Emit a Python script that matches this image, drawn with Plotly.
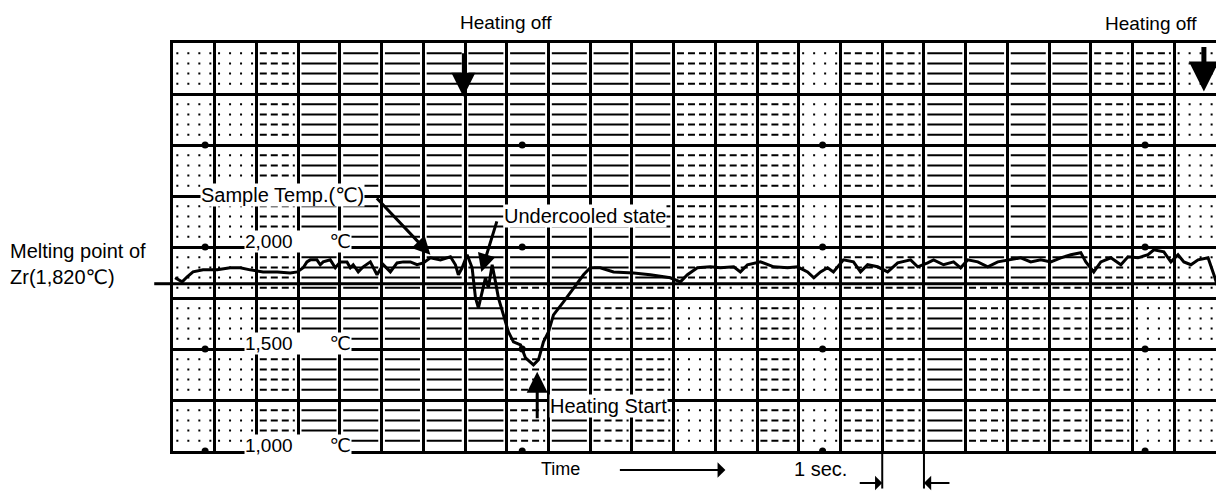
import plotly.graph_objects as go

# ---------------- data ----------------
time_s = [0.05, 0.22, 0.34, 0.48, 0.72, 1.06, 1.37, 1.61, 1.85, 2.16, 2.50, 2.81, 2.98, 3.12, 3.21, 3.29,
          3.45, 3.53, 3.60, 3.77, 3.89, 4.01, 4.17, 4.25, 4.32, 4.44, 4.56, 4.73, 4.89, 5.04, 5.21, 5.37,
          5.52, 5.69, 5.85, 6.00, 6.17, 6.41, 6.65, 6.77, 6.84, 6.93, 7.05, 7.17, 7.25, 7.32, 7.41, 7.49,
          7.56, 7.65, 7.73, 7.80, 7.92, 8.04, 8.16, 8.33, 8.45, 8.64, 8.76, 8.88, 9.00, 9.12, 9.36, 9.60,
          9.84, 10.00, 10.24, 10.56, 11.04, 11.44, 11.92, 12.16, 12.33, 12.57, 12.88, 13.12, 13.44, 13.60,
          13.77, 14.08, 14.25, 14.40, 14.73, 14.97, 15.21, 15.36, 15.52, 15.69, 15.83, 16.07, 16.31, 16.48,
          16.65, 16.89, 17.13, 17.37, 17.68, 17.85, 18.09, 18.23, 18.47, 18.71, 18.88, 19.05, 19.29, 19.53,
          19.77, 20.08, 20.32, 20.56, 20.80, 21.04, 21.28, 21.52, 21.76, 21.88, 22.07, 22.24, 22.48, 22.72,
          22.89, 23.13, 23.37, 23.51, 23.75, 23.92, 24.09, 24.23, 24.40, 24.57, 24.81, 24.95, 25.05]
temp_c = [1849, 1829, 1854, 1878, 1888, 1888, 1898, 1898, 1888, 1878, 1878, 1873, 1878, 1898, 1927, 1937,
          1937, 1913, 1927, 1937, 1898, 1927, 1927, 1898, 1913, 1878, 1903, 1927, 1864, 1913, 1878, 1922,
          1927, 1927, 1913, 1922, 1947, 1937, 1952, 1913, 1864, 1898, 1962, 1898, 1751, 1702, 1780, 1849,
          1800, 1913, 1829, 1751, 1667, 1584, 1535, 1520, 1456, 1422, 1447, 1535, 1584, 1667, 1731, 1800,
          1864, 1898, 1898, 1878, 1873, 1864, 1849, 1829, 1864, 1898, 1903, 1898, 1903, 1878,
          1913, 1927, 1913, 1903, 1898, 1903, 1878, 1849, 1878, 1898, 1878, 1937, 1927, 1878,
          1913, 1903, 1878, 1922, 1937, 1903, 1922, 1937, 1913, 1927, 1898, 1937, 1927, 1903,
          1927, 1937, 1947, 1927, 1937, 1927, 1947, 1962, 1972, 1927, 1878, 1927, 1947, 1913,
          1952, 1947, 1962, 1986, 1976, 1927, 1962, 1927, 1913, 1937, 1947, 1864, 1800]

mark_times = [0.77, 8.37, 15.57, 23.30]
mark_temps = [2500, 2000, 1500, 1000]

temp_levels = [1000, 1500, 2000]
temp_labels = ["1,000", "1,500", "2,000"]
melting_point = 1820

# chart-paper minor ruling style per 1-second column (upper / lower half)
style_upper = ["dot", "dot", "dash", "solid", "solid", "solid", "solid", "solid", "solid", "solid",
               "solid", "solid", "dash", "dash", "dash", "dot", "dash", "dash", "solid", "solid",
               "solid", "solid", "dash", "dash", "dot"]
style_lower = ["dot", "dot", "dash", "solid", "solid", "solid", "solid", "solid", "dash", "solid",
               "dash", "dash", "dot", "dot", "dash", "dot", "dash", "dash", "solid", "dash",
               "dash", "dash", "dash", "dot", "dot"]

T0, T1 = 1000, 3000
N_COLS = 25
FONT = "Liberation Sans, Arial, DejaVu Sans, sans-serif"


def px(t):
    return t / N_COLS


def py(T):
    return (T - T0) / (T1 - T0)


fig = go.Figure()

# minor ruling drawn as segments
dash_map = {"solid": "solid", "dash": "7px,4px", "dot": "2px,9px"}
for sty in ["solid", "dash", "dot"]:
    xs, ys = [], []
    for c in range(N_COLS):
        for T in range(T0 + 50, T1, 50):
            if T % 250 == 0:
                continue
            s = style_upper[c] if T > melting_point else style_lower[c]
            if s != sty:
                continue
            xs += [c + 0.08, c + 0.92, None]
            ys += [T, T, None]
    fig.add_trace(go.Scatter(x=xs, y=ys, mode="lines", hoverinfo="skip", showlegend=False,
                             line=dict(color="black", width=2, dash=dash_map[sty])))

# recorder marks
mx, my = [], []
for t in mark_times:
    for T in mark_temps:
        mx.append(t)
        my.append(T)
fig.add_trace(go.Scatter(x=mx, y=my, mode="markers", showlegend=False, hoverinfo="skip",
                         marker=dict(color="black", size=7, symbol="circle")))

# melting point line across the chart
fig.add_trace(go.Scatter(x=[0, N_COLS], y=[melting_point, melting_point], mode="lines",
                         showlegend=False, hoverinfo="skip", line=dict(color="black", width=3)))

# temperature trace
fig.add_trace(go.Scatter(x=time_s, y=temp_c, mode="lines", showlegend=False,
                         line=dict(color="black", width=3)))

shapes = [
    dict(type="line", xref="paper", yref="paper", x0=-0.018, x1=0, y0=py(melting_point), y1=py(melting_point),
         line=dict(color="black", width=3)),
    dict(type="line", xref="paper", yref="paper", x0=px(17), x1=px(17), y0=0, y1=-0.092,
         line=dict(color="black", width=2)),
    dict(type="line", xref="paper", yref="paper", x0=px(18), x1=px(18), y0=0, y1=-0.092,
         line=dict(color="black", width=2)),
]

ann = []


def txt(t, T, s, size=20, bg=None, xanchor="center"):
    d = dict(x=px(t), y=py(T), xref="paper", yref="paper", text=s, showarrow=False, xanchor=xanchor,
             yanchor="middle", align="left", font=dict(family=FONT, size=size, color="black"), borderpad=0)
    if bg:
        d["bgcolor"] = bg
    ann.append(d)


def arrow(t, T, ax, ay, width=2, size=1.0, head=2):
    ann.append(dict(x=px(t), y=py(T), xref="paper", yref="paper", ax=ax, ay=ay, text="", showarrow=True,
                    arrowhead=head, arrowwidth=width, arrowsize=size, arrowcolor="black"))


# temperature scale labels
for T, lab in zip(temp_levels, temp_labels):
    txt(3.0, T + 25, lab + "\u00a0\u00a0\u00a0\u00a0\u00a0\u00a0\u00a0\u2103", size=19, bg="white")

txt(-3.92, 1918, "Melting point of<br>Zr(1,820\u2103)", size=20, xanchor="left")

txt(7.99, 3100, "Heating off", size=19)
txt(23.44, 3098, "Heating off", size=19)
arrow(6.96, 2737, 0, -45, width=3, size=1.6)
arrow(24.71, 2762, 0, -46, width=5, size=1.2)

txt(2.62, 2256, "Sample Temp.(\u2103)", size=20, bg="white")
arrow(6.17, 1962, -55, -58, width=3, size=1.2)

txt(9.88, 2153, "Undercooled state", size=20, bg="white")
arrow(7.39, 1878, 16, -52, width=3, size=1.2)

txt(10.44, 1221, "Heating Start", size=20, bg="white")
arrow(8.73, 1388, 0, 48, width=3, size=1.4)

txt(9.29, 912, "Time", size=18)
arrow(13.24, 907, -107, 0, width=2, size=1.3, head=1)

txt(15.52, 912, "1 sec.", size=20)
arrow(17.0, 843, -24, 0, width=2, size=1.2, head=1)
arrow(18.0, 843, 27, 0, width=2, size=1.2, head=1)

# margins offset by the 8px default page margin of the HTML body
fig.update_layout(
    width=1224, height=492,
    margin=dict(l=165, r=16, t=35, b=49),
    paper_bgcolor="white", plot_bgcolor="white",
    shapes=shapes, annotations=ann, showlegend=False,
    xaxis=dict(range=[0, N_COLS], dtick=1, tick0=0, showgrid=True, gridcolor="black", gridwidth=3,
               showticklabels=False, ticks="", zeroline=False, showline=True, linecolor="black",
               linewidth=3, mirror=True, fixedrange=True),
    yaxis=dict(range=[T0, T1], dtick=250, tick0=0, showgrid=True, gridcolor="black", gridwidth=3,
               showticklabels=False, ticks="", zeroline=False, showline=True, linecolor="black",
               linewidth=3, mirror=True, fixedrange=True),
)

fig.write_html("out.html")
